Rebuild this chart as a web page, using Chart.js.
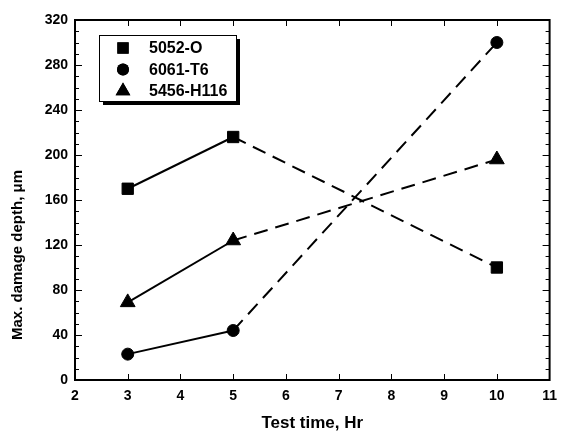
<!DOCTYPE html>
<html>
<head>
<meta charset="utf-8">
<script src="https://cdn.jsdelivr.net/npm/chart.js@4"></script>
<style>
  html, body { margin: 0; padding: 0; background: #fff; }
  #wrap { width: 565px; height: 436px; }
</style>
</head>
<body>
<div id="wrap"><canvas id="depthChart"></canvas></div>
<script>
// test times (Hr)
const testTimes = [3, 5, 10];

// max. damage depth per alloy
const alloyNames = ['5052-O', '6061-T6', '5456-H116'];
const depth5052 = [170, 216, 100];
const depth6061 = [23, 44, 300];
const depth5456 = [69, 124, 196];

const xTicks = { min: 2, max: 11, step: 1 };
const yTicks = { min: 0, max: 320, step: 40, minor: 10 };
const yTitle = 'Max. damage depth, μm';

const markers = [
    { style: 'rect', radius: 8 },
    { style: 'circle', radius: 6 },
    { style: 'triangle', radius: 8.5 }
];

const FONT = "'Liberation Sans', Arial, sans-serif";

const makeSeries = (label, values, m) => ({
    label: label,
    data: testTimes.map((t, i) => ({ x: t, y: values[i] })),
    borderColor: '#000',
    backgroundColor: '#000',
    borderWidth: 2,
    pointStyle: m.style,
    pointRadius: m.radius,
    pointHoverRadius: m.radius,
    pointBackgroundColor: '#000',
    pointBorderColor: '#000',
    pointBorderWidth: 1,
    // first segment solid, the rest dashed
    segment: {
        borderDash: ctx => ctx.p0DataIndex >= 1 ? [14, 8] : []
    }
});

// frame with inward ticks on all four sides, plus the rotated y title
const framePlugin = {
    id: 'frame',
    beforeDatasetsDraw: (chart) => {
        const { ctx, chartArea: a, scales } = chart;
        const xs = scales.x, ys = scales.y;
        ctx.save();
        ctx.strokeStyle = '#000';
        ctx.lineWidth = 1;
        ctx.beginPath();
        for (let v = xTicks.min + xTicks.step; v < xTicks.max; v += xTicks.step) {
            const px = Math.round(xs.getPixelForValue(v)) + 0.5;
            ctx.moveTo(px, a.bottom); ctx.lineTo(px, a.bottom - 6);
            ctx.moveTo(px, a.top); ctx.lineTo(px, a.top + 6);
        }
        for (let v = yTicks.min + yTicks.minor; v < yTicks.max; v += yTicks.minor) {
            const py = Math.round(ys.getPixelForValue(v)) + 0.5;
            const len = v % yTicks.step === 0 ? 7 : 4;
            ctx.moveTo(a.left, py); ctx.lineTo(a.left + len, py);
            ctx.moveTo(a.right, py); ctx.lineTo(a.right - len, py);
        }
        ctx.stroke();
        ctx.lineWidth = 2;
        ctx.strokeRect(a.left, a.top, a.right - a.left, a.bottom - a.top);

        ctx.translate(18, 255);
        ctx.rotate(-Math.PI / 2);
        ctx.fillStyle = '#000';
        ctx.font = 'bold 15px ' + FONT;
        ctx.textAlign = 'center';
        ctx.textBaseline = 'middle';
        ctx.fillText(yTitle, 0, 0);
        ctx.restore();
    }
};

// boxed legend with drop shadow
const boxLegendPlugin = {
    id: 'boxLegend',
    afterDraw: (chart) => {
        const { ctx } = chart;
        const bx = 99, by = 35, bw = 137, bh = 66;
        ctx.save();
        ctx.fillStyle = '#000';
        ctx.fillRect(bx + 4, by + 4, bw, bh);
        ctx.fillStyle = '#fff';
        ctx.fillRect(bx, by, bw, bh);
        ctx.strokeStyle = '#000';
        ctx.lineWidth = 1;
        ctx.strokeRect(bx + 0.5, by + 0.5, bw, bh);
        ctx.font = 'bold 16px ' + FONT;
        ctx.textBaseline = 'middle';
        chart.data.datasets.forEach((ds, i) => {
            const cy = by + 13 + i * 21.5;
            ctx.fillStyle = '#000';
            Chart.helpers.drawPoint(ctx, { pointStyle: ds.pointStyle, radius: ds.pointRadius, borderWidth: 0 }, bx + 24, cy);
            ctx.fill();
            ctx.fillText(ds.label, bx + 50, cy + 1);
        });
        ctx.restore();
    }
};

new Chart(document.getElementById('depthChart'), {
    type: 'line',
    data: {
        datasets: [
            makeSeries(alloyNames[0], depth5052, markers[0]),
            makeSeries(alloyNames[1], depth6061, markers[1]),
            makeSeries(alloyNames[2], depth5456, markers[2])
        ]
    },
    options: {
        responsive: true,
        maintainAspectRatio: false,
        animation: false,
        layout: { padding: { top: 20, right: 10, left: 0, bottom: 0 } },
        plugins: {
            legend: { display: false },
            tooltip: { enabled: false }
        },
        scales: {
            x: {
                type: 'linear',
                min: xTicks.min,
                max: xTicks.max,
                afterFit: s => { s.height = 56; },
                grid: { display: false, drawTicks: false },
                border: { display: false },
                ticks: {
                    stepSize: xTicks.step,
                    padding: 8,
                    color: '#000',
                    font: { family: FONT, size: 14, weight: 'bold' }
                },
                title: {
                    display: true,
                    text: 'Test time, Hr',
                    color: '#000',
                    padding: { top: 0, bottom: 2 },
                    font: { family: FONT, size: 17, weight: 'bold' }
                }
            },
            y: {
                min: yTicks.min,
                max: yTicks.max,
                afterFit: s => { s.width = 75; },
                grid: { display: false, drawTicks: false },
                border: { display: false },
                ticks: {
                    stepSize: yTicks.step,
                    padding: 7,
                    color: '#000',
                    font: { family: FONT, size: 14, weight: 'bold' }
                }
            }
        }
    },
    plugins: [framePlugin, boxLegendPlugin]
});
</script>
</body>
</html>
